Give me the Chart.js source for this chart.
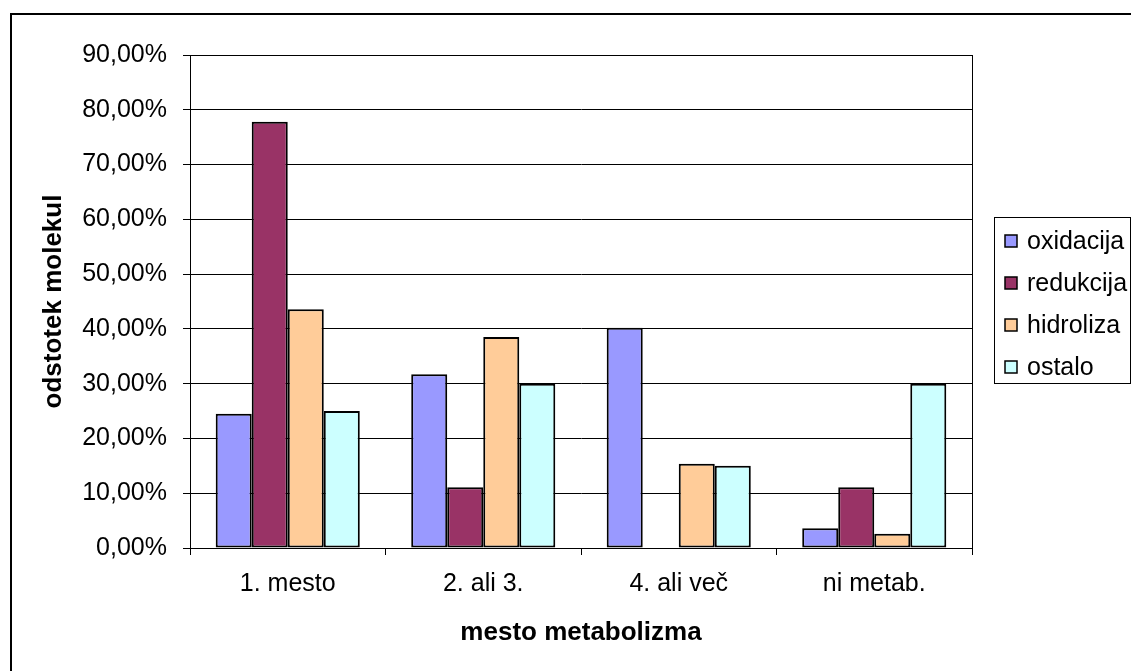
<!DOCTYPE html>
<html>
<head>
<meta charset="utf-8">
<script src="https://cdn.jsdelivr.net/npm/chart.js@4"></script>
<style>
  html, body { margin: 0; padding: 0; background: #fff; }
  canvas { display: block; }
</style>
</head>
<body>
<canvas id="c" width="1131" height="671"></canvas>
<script>
// Categories (place of metabolism) and share of molecules per reaction type, in %
const categories = ['1. mesto', '2. ali 3.', '4. ali več', 'ni metab.'];
const oxidacija = [24.5, 31.7, 40.2, 3.6];
const redukcija = [77.8, 11.1, 0, 11.1];
const hidroliza = [43.6, 38.5, 15.4, 2.6];
const ostalo    = [25.0, 30.0, 15.0, 30.0];
const yTicks = [0, 10, 20, 30, 40, 50, 60, 70, 80, 90];

const FONT = 'Liberation Sans, Arial, sans-serif';

// Outer frame, plot-area frame and a boxed legend on the right
const framePlugin = {
  id: 'frame',
  beforeDraw(chart) {
    const ctx = chart.ctx;
    ctx.save();
    ctx.fillStyle = '#fff';
    ctx.fillRect(0, 0, chart.width, chart.height);
    ctx.strokeStyle = '#000';
    ctx.lineWidth = 2;
    ctx.strokeRect(11, 14, chart.width + 20, chart.height + 20);
    ctx.restore();
  },
  afterDraw(chart) {
    const ctx = chart.ctx;
    const a = chart.chartArea;
    ctx.save();
    ctx.strokeStyle = '#000';
    ctx.lineWidth = 1;
    ctx.strokeRect(Math.round(a.left) + 0.5, Math.round(a.top) + 0.5,
                   Math.round(a.right - a.left), Math.round(a.bottom - a.top));

    // legend
    const lx = 994, ly = 217, lw = 136, lh = 166;
    ctx.fillStyle = '#fff';
    ctx.fillRect(lx, ly, lw, lh);
    ctx.strokeRect(lx + 0.5, ly + 0.5, lw, lh);
    ctx.font = '25px ' + FONT;
    ctx.textBaseline = 'middle';
    ctx.textAlign = 'left';
    chart.data.datasets.forEach((ds, i) => {
      const cy = 241 + i * 42;
      ctx.fillStyle = ds.backgroundColor;
      ctx.fillRect(1005, cy - 6, 12, 12);
      ctx.lineWidth = 1.5;
      ctx.strokeStyle = '#000';
      ctx.strokeRect(1005, cy - 6, 12, 12);
      ctx.fillStyle = '#000';
      ctx.fillText(ds.label, 1027, cy + 1);
    });
    ctx.restore();
  }
};

const mkSet = (label, data, color) => ({
  label, data,
  backgroundColor: color,
  borderColor: '#000',
  borderWidth: 2,
  borderSkipped: false,
  categoryPercentage: 0.737,
  barPercentage: 1.0
});

new Chart(document.getElementById('c'), {
  type: 'bar',
  data: {
    labels: categories,
    datasets: [
      mkSet('oxidacija', oxidacija, '#9999FF'),
      mkSet('redukcija', redukcija, '#993366'),
      mkSet('hidroliza', hidroliza, '#FFCC99'),
      mkSet('ostalo', ostalo, '#CCFFFF')
    ]
  },
  options: {
    responsive: false,
    animation: false,
    devicePixelRatio: 1,
    layout: { padding: { left: 0, top: 55, right: 159, bottom: 0 } },
    plugins: {
      legend: { display: false },
      tooltip: { enabled: false }
    },
    scales: {
      x: {
        offset: true,
        afterFit: (s) => { s.height = 123; },
        grid: {
          offset: true,
          drawOnChartArea: false,
          drawTicks: true,
          tickLength: 7,
          color: '#000',
          lineWidth: 1
        },
        border: { display: true, color: '#000', width: 1 },
        ticks: {
          color: '#000',
          font: { family: FONT, size: 25 },
          padding: 14,
          maxRotation: 0
        },
        title: {
          display: true,
          text: 'mesto metabolizma',
          color: '#000',
          font: { family: FONT, size: 26, weight: 'bold' },
          padding: { top: 0, bottom: 23 }
        }
      },
      y: {
        min: 0,
        max: 90,
        afterFit: (s) => { s.width = 190; },
        afterBuildTicks: (s) => { s.ticks = yTicks.map(v => ({ value: v })); },
        grid: {
          color: '#000',
          lineWidth: 1,
          tickLength: 7
        },
        border: { display: true, color: '#000', width: 1 },
        ticks: {
          color: '#000',
          font: { family: FONT, size: 25 },
          padding: 16,
          callback: (v) => v.toFixed(2).replace('.', ',') + '%'
        },
        title: {
          display: true,
          text: 'odstotek molekul',
          color: '#000',
          font: { family: FONT, size: 26, weight: 'bold' },
          padding: { top: 38, bottom: 0 }
        }
      }
    }
  },
  plugins: [framePlugin]
});
</script>
</body>
</html>
